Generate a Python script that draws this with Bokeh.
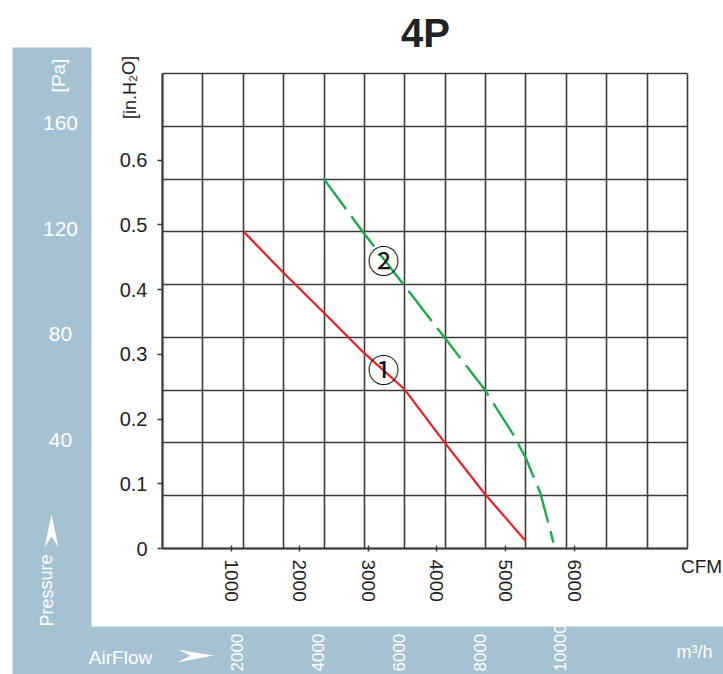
from bokeh.plotting import figure
from bokeh.models import (Range1d, LinearAxis, FixedTicker, Label, LabelSet, Grid,
                          ColumnDataSource, BoxAnnotation, PolyAnnotation)
from bokeh.embed import file_html
from bokeh.resources import INLINE
from bokeh.core.properties import value

# ---------------- data ----------------
title = "4P"
cfm_1 = [1180, 1763, 2346, 2929, 3527, 4110, 4693, 5290]
inh2o_1 = [0.490, 0.426, 0.365, 0.303, 0.246, 0.164, 0.085, 0.012]
cfm_2 = [2346, 2929, 3527, 4110, 4693, 5101, 5290, 5509, 5698]
inh2o_2 = [0.572, 0.488, 0.406, 0.326, 0.246, 0.178, 0.141, 0.085, 0.009]
inh2o_ticks = [0, 0.1, 0.2, 0.3, 0.4, 0.5, 0.6]
cfm_ticks = [1000, 2000, 3000, 4000, 5000, 6000]
pa_ticks = [40, 80, 120, 160]
m3h_ticks = [2000, 4000, 6000, 8000, 10000]
pa_grid = [0, 20, 40, 60, 80, 100, 120, 140, 160, 180]
m3h_grid = [0, 1000, 2000, 3000, 4000, 5000, 6000, 7000, 8000, 9000, 10000, 11000, 12000, 13000]
M3H_PER_CFM = 1.69901
M3H_MAX = 13000
PA_MAX = 180
INH2O_MAX = 0.734
CFM_MAX = M3H_MAX / M3H_PER_CFM

FONT = "Liberation Sans"
CIRC = "Noto Sans CJK JP"
BLUE = "#a4c2d1"
DARK = "#222222"
GRIDC = "#3c3c3c"

W, H = 723, 674
# chart grid area in canvas pixels
FL, FR, FT, FB = 162, 687, 73, 548

def sx(px):
    return (px - FL) / (FR - FL) * CFM_MAX

def sy(py):
    return (FB - py) / (FB - FT) * INH2O_MAX

p = figure(width=W, height=H, output_backend="svg", toolbar_location=None,
           x_range=Range1d(sx(0), sx(W)), y_range=Range1d(sy(H), sy(0)),
           min_border=0, min_border_left=0, min_border_right=0,
           min_border_top=0, min_border_bottom=0,
           x_axis_type=None, y_axis_type=None, title=None)
p.background_fill_color = "white"
p.border_fill_color = "white"
p.outline_line_color = None

# blue panels
p.add_layout(BoxAnnotation(left=sx(12), right=sx(91), top=sy(47), bottom=sy(674),
                           fill_color=BLUE, fill_alpha=1, line_color=None))
p.add_layout(BoxAnnotation(left=sx(13), right=sx(723), top=sy(626), bottom=sy(674),
                           fill_color=BLUE, fill_alpha=1, line_color=None))

# grid (m3/h columns, Pa rows), bounded to the chart area
vgrid = Grid(dimension=0, ticker=FixedTicker(ticks=[m / M3H_PER_CFM for m in m3h_grid]),
             cross_bounds=(0, INH2O_MAX), grid_line_color=GRIDC, grid_line_width=1.6)
hgrid = Grid(dimension=1, ticker=FixedTicker(ticks=[v / PA_MAX * INH2O_MAX for v in pa_grid]),
             cross_bounds=(0, CFM_MAX), grid_line_color=GRIDC, grid_line_width=1.6)
p.add_layout(vgrid)
p.add_layout(hgrid)

# axes
yax = LinearAxis(fixed_location=0, bounds=(0, INH2O_MAX),
                 ticker=FixedTicker(ticks=inh2o_ticks),
                 major_label_overrides={t: ("0" if t == 0 else f"{t:.1f}") for t in inh2o_ticks})
yax.axis_line_color = GRIDC
yax.axis_line_width = 2
yax.major_tick_in = 0
yax.major_tick_out = 5
yax.major_tick_line_color = GRIDC
yax.major_tick_line_width = 1.5
yax.minor_tick_line_color = None
yax.major_label_standoff = 10
yax.major_label_text_font = FONT
yax.major_label_text_font_size = "20px"
yax.major_label_text_color = DARK
p.add_layout(yax, "left")

xax = LinearAxis(fixed_location=0, bounds=(0, CFM_MAX),
                 ticker=FixedTicker(ticks=cfm_ticks), major_label_orientation="vertical")
xax.axis_line_color = GRIDC
xax.axis_line_width = 2
xax.major_tick_in = 3
xax.major_tick_out = 3
xax.major_tick_line_color = GRIDC
xax.major_tick_line_width = 1.5
xax.minor_tick_line_color = None
xax.major_label_standoff = 8
xax.major_label_text_font = FONT
xax.major_label_text_font_size = "19px"
xax.major_label_text_color = DARK
p.add_layout(xax, "below")

# curves
p.line(cfm_1, inh2o_1, line_color="#ee1c25", line_width=2.2)
p.line(cfm_2, inh2o_2, line_color="#1daa4b", line_width=2.4, line_dash="38 9")

def lab(px, py, text, size, color, angle=0.0, font=FONT, align="center", style="normal"):
    p.add_layout(Label(x=sx(px), y=sy(py), text=text, text_font=font,
                       text_font_size=size, text_color=color, angle=angle,
                       text_align=align, text_baseline="middle", text_font_style=style))

lab(383, 367, "\u2460", "32px", "#111111", font=CIRC)
lab(383, 258, "\u2461", "32px", "#111111", font=CIRC)

# Pa labels (Pa scale: 0..PA_MAX over the chart height)
pa_src = ColumnDataSource(dict(x=[sx(60)] * len(pa_ticks),
                               y=[v / PA_MAX * INH2O_MAX for v in pa_ticks],
                               t=[str(v) for v in pa_ticks]))
p.add_layout(LabelSet(x="x", y="y", text="t", source=pa_src,
                      text_font=value(FONT), text_font_size="21px", text_color="white",
                      text_align="center", text_baseline="middle", y_offset=3))

# m3/h labels
m3_src = ColumnDataSource(dict(x=[m / M3H_PER_CFM for m in m3h_ticks],
                               y=[sy(671)] * len(m3h_ticks),
                               t=[str(v) for v in m3h_ticks]))
p.add_layout(LabelSet(x="x", y="y", text="t", source=m3_src,
                      text_font=value(FONT), text_font_size="17px", text_color="white",
                      text_align="left", text_baseline="middle", angle=1.5708, x_offset=-6))

lab(425, 32, title, "40px", DARK, style="bold")
lab(58, 75, "[Pa]", "19px", "white", angle=1.5708)
lab(129, 87, "[in.H\u2082O]", "18px", DARK, angle=1.5708)
lab(46, 590, "Pressure", "18px", "white", angle=1.5708)
lab(120, 657, "AirFlow", "19px", "white")
lab(694, 651, "m\u00b3/h", "18px", "white")
lab(701, 566, "CFM", "19px", DARK)

# arrows
up = [(51, 514), (44, 547), (51, 536), (58, 547)]
rt = [(213, 655), (177, 649), (190, 655), (177, 662)]
for pts in (up, rt):
    p.add_layout(PolyAnnotation(xs=[sx(a) for a, b in pts], ys=[sy(b) for a, b in pts],
                                fill_color="white", fill_alpha=1, line_color=None))

open("out.html", "w").write(file_html(p, INLINE))
